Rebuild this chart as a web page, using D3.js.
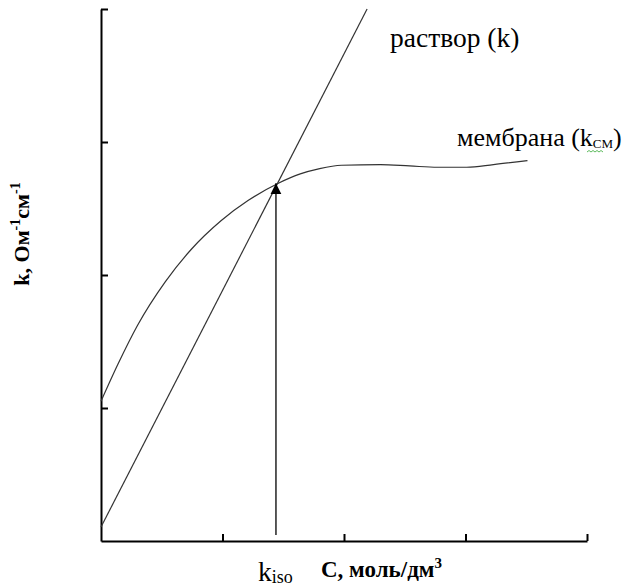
<!DOCTYPE html>
<html>
<head>
<meta charset="utf-8">
<script src="https://cdn.jsdelivr.net/npm/d3@7"></script>
<style>
  body { margin: 0; background: #fff; }
  .curve { fill: none; stroke: #333; stroke-width: 1.2; }
  .axis path, .axis line { stroke: #000; stroke-width: 2; }
</style>
</head>
<body>
<div id="chart"></div>
<script>
// conductivity of membrane vs solution (schematic)
var xTicks = [1, 2, 3, 4];
var yTicks = [1, 2, 3, 4];

// solution line: k = f(C)
var solutionC = [0, 2.19];
var solutionK = [0.105, 4.0];

// membrane curve
var membraneC = [0, 0.14, 0.30, 0.53, 0.74, 0.99, 1.21, 1.46, 1.64, 1.80, 1.98, 2.30, 2.54, 2.77, 3.01, 3.23, 3.51];
var membraneK = [1.05, 1.33, 1.62, 1.95, 2.19, 2.41, 2.56, 2.69, 2.76, 2.80, 2.825, 2.83, 2.82, 2.81, 2.81, 2.83, 2.86];

// iso-conductance point
var kIso = 1.44;
var kIsoArrow = [0.045, 2.69];

var serif = "Liberation Serif";

var margin = {top: 9, right: 42, bottom: 45, left: 101},
    width = 629 - margin.left - margin.right,
    height = 586 - margin.top - margin.bottom;

var svg = d3.select("#chart").append("svg")
    .attr("width", 629)
    .attr("height", 586);

var g = svg.append("g")
    .attr("transform", "translate(" + margin.left + "," + margin.top + ")");

var x = d3.scaleLinear().domain([0, 4]).range([0, width]);
var y = d3.scaleLinear().domain([0, 4]).range([height, 0]);

svg.append("defs").append("marker")
    .attr("id", "arrow")
    .attr("viewBox", "0 -5 10 10")
    .attr("refX", 10)
    .attr("refY", 0)
    .attr("markerWidth", 11)
    .attr("markerHeight", 14)
    .attr("markerUnits", "userSpaceOnUse")
    .attr("orient", "auto")
    .append("path")
    .attr("d", "M0,-5L10,0L0,5Z")
    .attr("fill", "#000");

// axes, ticks pointing inwards
g.append("g")
    .attr("class", "axis")
    .attr("transform", "translate(0," + height + ")")
    .call(d3.axisBottom(x).tickValues(xTicks).tickSize(-7).tickSizeOuter(0).tickFormat(""));

g.append("g")
    .attr("class", "axis")
    .call(d3.axisLeft(y).tickValues(yTicks).tickSize(-7).tickSizeOuter(0).tickFormat(""));

var line = d3.line()
    .x(function(d) { return x(d[0]); })
    .y(function(d) { return y(d[1]); });

g.append("path")
    .attr("class", "curve")
    .attr("d", line(d3.zip(solutionC, solutionK)));

g.append("path")
    .attr("class", "curve")
    .attr("d", line.curve(d3.curveMonotoneX)(d3.zip(membraneC, membraneK)));

g.append("line")
    .attr("x1", x(kIso)).attr("y1", y(kIsoArrow[0]))
    .attr("x2", x(kIso)).attr("y2", y(kIsoArrow[1]))
    .attr("stroke", "#000")
    .attr("stroke-width", 1.3)
    .attr("marker-end", "url(#arrow)");

// labels
svg.append("text")
    .attr("x", 390).attr("y", 47)
    .style("font-family", serif)
    .style("font-size", "27.5px")
    .text("раствор (k)");

var mem = svg.append("text")
    .attr("x", 457).attr("y", 146)
    .style("font-family", serif)
    .style("font-size", "26px");
mem.append("tspan").text("мембрана (k");
mem.append("tspan").attr("dy", 2).style("font-size", "13px").text("СМ");
mem.append("tspan").attr("dy", -2).text(")");

// spell-check squiggle under k_cm
svg.append("path")
    .attr("d", "M587,152 l2,-1.5 l2,1.5 l2,-1.5 l2,1.5 l2,-1.5 l2,1.5 l2,-1.5 l2,1.5")
    .attr("fill", "none")
    .attr("stroke", "#3a3")
    .attr("stroke-width", 0.8);

var iso = svg.append("text")
    .attr("x", 258).attr("y", 581)
    .style("font-family", serif)
    .style("font-size", "27.5px");
iso.append("tspan").text("k");
iso.append("tspan").attr("dy", 2).style("font-size", "18px").text("iso");

var xl = svg.append("text")
    .attr("x", 321).attr("y", 577)
    .style("font-family", serif)
    .style("font-size", "23px")
    .style("font-weight", "bold");
xl.append("tspan").text("C, моль/дм");
xl.append("tspan").attr("dy", -9).style("font-size", "15px").text("3");

var yl = svg.append("text")
    .attr("transform", "translate(29,234) rotate(-90)")
    .attr("text-anchor", "middle")
    .style("font-family", serif)
    .style("font-size", "22px")
    .style("font-weight", "bold");
yl.append("tspan").text("k, Ом");
yl.append("tspan").attr("dy", -9).style("font-size", "14px").text("-1");
yl.append("tspan").attr("dy", 9).text("см");
yl.append("tspan").attr("dy", -9).style("font-size", "14px").text("-1");
</script>
</body>
</html>
